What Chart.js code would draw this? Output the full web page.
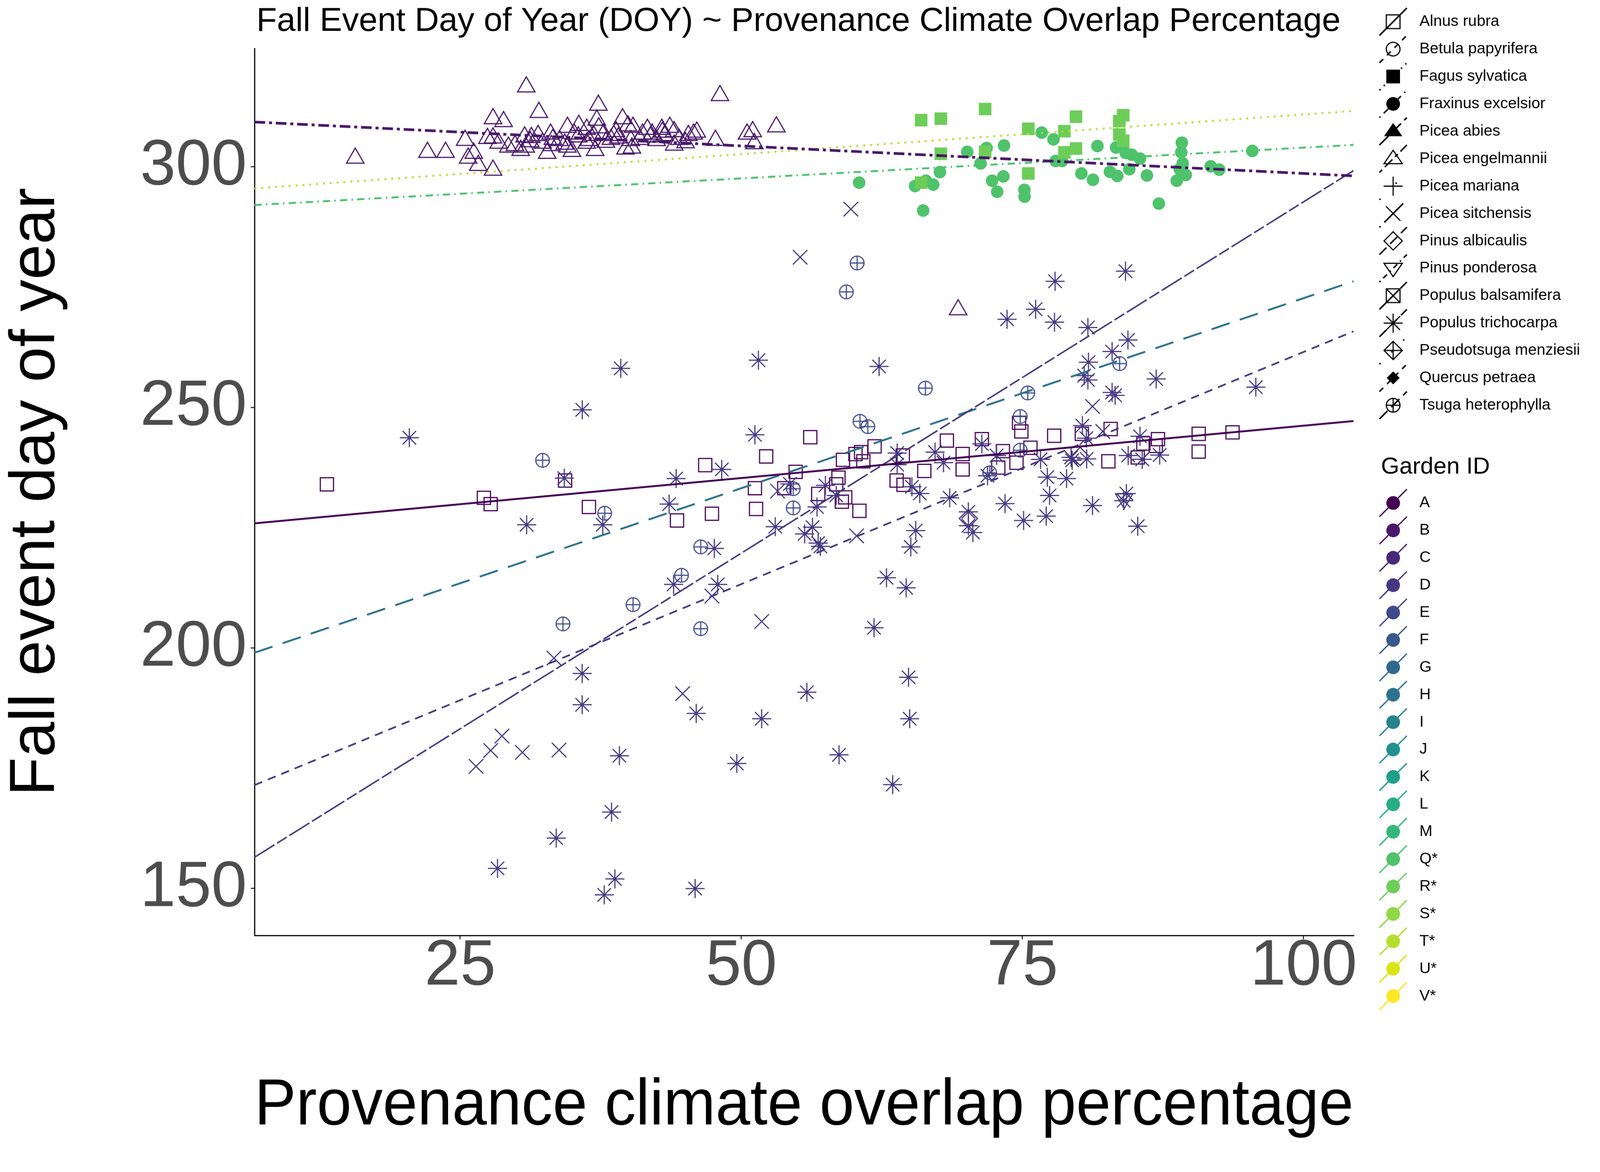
<!DOCTYPE html>
<html>
<head>
<meta charset="utf-8">
<title>Fall Event DOY ~ Provenance Climate Overlap</title>
<script src="https://cdn.jsdelivr.net/npm/chart.js@4.4.1/dist/chart.umd.min.js"></script>
<style>
  html, body { margin: 0; padding: 0; background: #fff; overflow: hidden; }
</style>
</head>
<body>
<canvas id="doy-chart" width="4200" height="3000" style="display:block;width:100vw;height:71.42857vw"></canvas>
<script>
// ---- axis setup ----
const xTicks = [25, 50, 75, 100];
const yTicks = [150, 200, 250, 300];
const xRange = [6.71, 104.44];
const yRange = [140.26, 324.6];

// ---- fitted lines (value at left and right edge of the panel) ----
const lineX          = [6.71, 104.44];
const alnusLineY     = [225.9, 247.15];  // solid, garden A
const engelLineY     = [309.3, 298.1];   // twodash, garden B
const fraxinusLineY  = [292.05, 304.55]; // dotdash, garden Q*
const fagusLineY     = [295.5, 311.6];   // dotted, garden T*
const tsugaLineY     = [156.5, 299.2];   // long dash, garden D
const trichoLineY    = [171.5, 265.8];   // dashed, garden D
const gardenHLineY   = [199.0, 276.2];   // dashed, garden H

// ---- points ----
const alnusX = [13.15, 27.11, 27.71, 34.33, 36.45, 44.28, 46.79, 47.39, 51.21, 51.31, 52.21, 53.82, 54.83, 56.13, 56.84, 58.44, 58.64, 58.94, 59.04, 59.24,
  60.15, 60.5, 60.65, 60.85, 61.85, 64.36, 63.81, 64.42, 66.27, 68.28, 69.68, 69.68, 71.39, 72.85, 73.26, 74.47, 74.7, 74.9, 75.71, 77.82,
  80.28, 82.84, 82.64, 85.75, 87.05, 86.85, 85.25, 90.67, 90.67, 93.68];
const alnusY = [234.0, 231.2, 229.9, 234.8, 229.3, 226.5, 238.0, 227.9, 233.2, 228.9, 239.8, 233.2, 236.6, 243.8, 232.0, 234.0, 235.4, 230.4, 239.1, 231.3,
  240.3, 228.5, 240.7, 238.8, 241.9, 240.0, 234.8, 233.9, 236.8, 243.1, 240.3, 237.1, 243.4, 237.5, 240.9, 238.5, 246.8, 245.0, 241.6, 244.1,
  244.5, 245.5, 238.8, 242.5, 243.4, 242.0, 239.6, 244.5, 240.8, 244.8];

const engelX = [30.88, 37.29, 32.0, 27.92, 28.86, 48.1, 53.12, 22.09, 23.7, 25.44, 26.21, 25.71, 26.61, 27.92, 27.42, 27.92, 28.42, 29.29, 29.87, 30.38,
  30.73, 31.33, 31.93, 32.74, 33.04, 33.12, 34.54, 34.54, 34.94, 35.55, 36.25, 37.0, 37.15, 37.32, 37.76, 38.41, 38.86, 39.44, 39.92, 40.37,
  39.7, 40.27, 40.97, 41.65, 41.91, 42.98, 43.64, 44.03, 44.03, 45.04, 45.76, 46.04, 47.7, 50.51, 51.01, 51.16, 33.84, 35.14, 36.45, 37.96,
  39.06, 42.07, 42.47, 43.18, 30.83, 31.23, 32.33, 34.3, 35.5, 36.85, 38.66, 40.17, 41.22, 44.48, 45.29, 42.93, 33.24, 36.25, 15.67, 69.28];
const engelY = [316.6, 312.8, 311.3, 310.0, 309.4, 314.8, 308.3, 303.0, 303.0, 305.5, 302.8, 301.8, 300.3, 299.3, 305.9, 306.0, 304.9, 304.1, 304.4, 303.4,
  306.2, 306.1, 306.5, 302.8, 306.8, 304.4, 308.2, 304.1, 303.2, 308.6, 307.8, 303.4, 309.7, 308.1, 306.8, 305.7, 307.3, 310.0, 308.5, 308.2,
  303.7, 303.9, 305.7, 307.8, 306.2, 307.2, 308.2, 307.3, 304.5, 305.0, 306.8, 307.2, 305.5, 306.8, 307.3, 304.8, 305.45, 306.8, 305.45, 305.1,
  306.0, 306.8, 305.45, 306.5, 304.1, 305.2, 304.9, 304.7, 306.2, 306.5, 306.5, 305.45, 306.8, 305.7, 306.5, 307.8, 305.7, 304.9, 301.8, 270.3];

const trichoX = [20.48, 39.28, 51.52, 35.86, 51.21, 48.26, 44.2, 34.26, 30.91, 37.68, 43.58, 47.6, 43.98, 47.9, 53.02, 55.63, 56.33, 56.83, 57.03, 56.73,
  57.48, 58.44, 62.25, 54.32, 77.9, 84.16, 76.17, 73.63, 77.85, 80.82, 84.38, 82.97, 80.87, 80.49, 80.82, 86.89, 82.97, 83.24, 95.75, 80.33,
  80.68, 85.45, 87.2, 85.65, 84.4, 80.71, 79.32, 79.42, 76.61, 77.21, 78.92, 77.41, 73.45, 75.1, 77.11, 81.23, 84.24, 84.0, 85.25, 71.89,
  68.53, 70.19, 70.19, 70.59, 65.51, 65.07, 65.87, 65.17, 63.86, 63.86, 67.23, 67.98, 71.39, 72.7, 62.91, 64.66, 61.8, 35.85, 35.85, 55.83,
  64.87, 64.97, 45.99, 51.81, 39.16, 49.6, 58.69, 63.46, 38.46, 33.54, 28.32, 38.76, 37.81, 45.89];
const trichoY = [243.7, 258.1, 259.8, 249.5, 244.3, 237.1, 235.2, 235.3, 225.6, 225.6, 229.9, 220.7, 213.2, 213.2, 225.2, 223.7, 225.1, 221.8, 221.1, 229.3,
  233.8, 231.7, 258.5, 234.1, 276.2, 278.3, 270.4, 268.3, 267.7, 266.6, 264.0, 261.6, 259.4, 256.6, 255.7, 255.9, 253.1, 252.5, 254.2, 246.2,
  243.6, 244.0, 240.1, 239.2, 240.0, 239.3, 239.6, 239.0, 239.2, 235.5, 235.2, 231.7, 230.0, 226.5, 227.4, 229.6, 232.1, 230.6, 225.3, 235.8,
  231.2, 228.3, 225.4, 224.0, 224.4, 221.0, 232.1, 233.5, 238.1, 240.5, 240.7, 238.5, 242.4, 240.0, 214.6, 212.5, 204.2, 194.7, 188.2, 190.8,
  193.9, 185.3, 186.4, 185.3, 177.6, 176.0, 177.8, 171.6, 165.9, 160.5, 154.2, 152.0, 148.7, 150.0];

const sitchX = [55.23, 59.74, 53.22, 60.25, 81.23, 82.14, 47.39, 51.81, 33.34, 44.78, 28.72, 27.71, 30.53, 33.79, 26.41];
const sitchY = [281.2, 291.2, 232.6, 223.3, 250.2, 245.0, 210.8, 205.5, 197.9, 190.5, 181.7, 178.7, 178.3, 178.8, 175.4];

const tsugaX = [32.33, 37.85, 44.68, 46.39, 34.14, 40.37, 46.39, 54.62, 54.62, 60.55, 61.25, 66.37, 75.47, 74.8, 83.64, 74.8, 72.09, 60.3, 59.34];
const tsugaY = [239.0, 228.0, 215.1, 221.0, 205.0, 209.0, 204.0, 233.1, 229.1, 247.1, 246.0, 254.0, 253.0, 248.1, 259.1, 241.1, 236.4, 280.0, 274.0];

const albicX = [80.13, 70.19];
const albicY = [239.8, 226.9];
const pondX  = [84.04];
const pondY  = [231.0];

const fraxX = [60.48, 65.45, 66.42, 67.06, 67.66, 66.17, 70.09, 71.28, 71.81, 72.3, 72.75, 73.3, 73.36, 75.17, 75.19, 76.71, 77.76, 77.95, 78.52, 80.24,
  81.27, 81.67, 82.78, 83.32, 83.43, 84.18, 84.5, 84.72, 85.45, 86.07, 87.13, 88.72, 89.17, 89.12, 89.25, 88.98, 89.52, 91.74, 92.5, 95.44];
const fraxY = [296.7, 296.0, 297.1, 296.3, 298.9, 290.9, 303.1, 300.7, 303.9, 297.1, 294.8, 298.0, 304.4, 295.2, 293.8, 307.1, 305.7, 301.2, 301.2, 298.6,
  297.3, 304.3, 298.95, 304.0, 298.1, 302.9, 299.5, 302.5, 301.7, 298.2, 292.35, 297.1, 305.0, 303.0, 300.7, 299.5, 298.3, 300.1, 299.4, 303.3];

const fagusX = [65.99, 67.74, 71.68, 75.52, 79.76, 83.96, 83.61, 83.61, 83.96, 78.73, 67.74, 71.68, 79.76, 78.73, 75.52, 65.99];
const fagusY = [309.7, 310.0, 312.0, 307.9, 310.4, 310.7, 309.5, 306.7, 305.4, 307.4, 302.7, 303.1, 303.8, 303.0, 298.6, 296.7];

// ---- legends ----
const speciesNames = ["Alnus rubra", "Betula papyrifera", "Fagus sylvatica", "Fraxinus excelsior", "Picea abies",
  "Picea engelmannii", "Picea mariana", "Picea sitchensis", "Pinus albicaulis", "Pinus ponderosa",
  "Populus balsamifera", "Populus trichocarpa", "Pseudotsuga menziesii", "Quercus petraea", "Tsuga heterophylla"];
const speciesGlyphs = ["sq", "circ", "sqF", "circF", "triF", "tri", "plus", "x", "dia", "triD", "sqX", "star", "diaPlus", "diaF", "circPlus"];
const speciesDashes = [[], [14, 14], [4, 12], [4, 12, 18, 12], [34, 12], [10, 10, 28, 10], [4, 56], [4, 14, 70, 14],
  [26, 14], [4, 10, 14, 10], [70, 8], [26, 14], [4, 40], [14, 14], [30, 14]];

const gardenIds = ["A", "B", "C", "D", "E", "F", "G", "H", "I", "J", "K", "L", "M", "Q*", "R*", "S*", "T*", "U*", "V*"];
const gardenColors = ["#440154", "#481769", "#482878", "#453781", "#3E4A89", "#38598C", "#31688E", "#2C728E", "#26828E", "#21908C",
  "#1F9E89", "#28AE80", "#35B779", "#4EC36B", "#6DCD59", "#8FD744", "#B4DE2C", "#DAE319", "#FDE725"];

const FONT = '"Liberation Sans", Arial, Helvetica, sans-serif';
const col = id => gardenColors[gardenIds.indexOf(id)];
const pts = (xs, ys) => xs.map((x, i) => ({ x: x, y: ys[i] }));

// circle with a plus, for Tsuga heterophylla
function circlePlusMarker(color) {
    const c = document.createElement("canvas");
    c.width = 44; c.height = 44;
    const g = c.getContext("2d");
    g.strokeStyle = color;
    g.lineWidth = 3;
    g.beginPath(); g.arc(22, 22, 18, 0, Math.PI * 2); g.stroke();
    g.beginPath();
    g.moveTo(4, 22); g.lineTo(40, 22);
    g.moveTo(22, 4); g.lineTo(22, 40);
    g.stroke();
    return c;
}

function fitLine(ys, color, width, dash) {
    return {
        type: "line", data: pts(lineX, ys), borderColor: color, borderWidth: width,
        borderDash: dash, pointRadius: 0, fill: false, tension: 0
    };
}

function pointSet(xs, ys, style, radius, color, filled, extra) {
    return Object.assign({
        type: "scatter", data: pts(xs, ys), pointStyle: style, pointRadius: radius,
        borderColor: color, backgroundColor: filled ? color : "rgba(0,0,0,0)",
        borderWidth: filled ? 0 : 3
    }, extra || {});
}

// legend key glyphs (black)
function drawGlyph(ctx, kind, x, y) {
    ctx.save();
    ctx.strokeStyle = "#000";
    ctx.fillStyle = "#000";
    ctx.lineWidth = 3;
    ctx.setLineDash([]);
    ctx.beginPath();
    const tri = (dir) => {
        ctx.moveTo(x, y - 22 * dir);
        ctx.lineTo(x + 24, y + 13 * dir);
        ctx.lineTo(x - 24, y + 13 * dir);
        ctx.closePath();
    };
    const dia = (r) => {
        ctx.moveTo(x, y - r); ctx.lineTo(x + r, y); ctx.lineTo(x, y + r); ctx.lineTo(x - r, y); ctx.closePath();
    };
    const plus = (r) => { ctx.moveTo(x - r, y); ctx.lineTo(x + r, y); ctx.moveTo(x, y - r); ctx.lineTo(x, y + r); };
    const cross = (r) => { ctx.moveTo(x - r, y - r); ctx.lineTo(x + r, y + r); ctx.moveTo(x + r, y - r); ctx.lineTo(x - r, y + r); };
    switch (kind) {
        case "sq": ctx.rect(x - 18, y - 18, 36, 36); ctx.stroke(); break;
        case "sqF": ctx.rect(x - 18, y - 18, 36, 36); ctx.fill(); break;
        case "circ": ctx.arc(x, y, 18, 0, Math.PI * 2); ctx.stroke(); break;
        case "circF": ctx.arc(x, y, 18, 0, Math.PI * 2); ctx.fill(); break;
        case "tri": tri(1); ctx.stroke(); break;
        case "triF": tri(1); ctx.fill(); break;
        case "triD": tri(-1); ctx.stroke(); break;
        case "plus": plus(25); ctx.stroke(); break;
        case "x": cross(19); ctx.stroke(); break;
        case "dia": dia(24); ctx.stroke(); break;
        case "diaF": dia(17); ctx.fill(); break;
        case "sqX": ctx.rect(x - 18, y - 18, 36, 36); cross(18); ctx.stroke(); break;
        case "star": plus(25); cross(18); ctx.stroke(); break;
        case "diaPlus": dia(24); plus(24); ctx.stroke(); break;
        case "circPlus": ctx.arc(x, y, 18, 0, Math.PI * 2); plus(18); ctx.stroke(); break;
    }
    ctx.restore();
}

function drawKeyLine(ctx, x, y, color, width, dash) {
    ctx.save();
    ctx.strokeStyle = color;
    ctx.lineWidth = width;
    ctx.setLineDash(dash);
    ctx.beginPath();
    ctx.moveTo(x - 36, y + 36);
    ctx.lineTo(x + 36, y - 36);
    ctx.stroke();
    ctx.restore();
}

const sideLegends = {
    id: "sideLegends",
    afterDraw(chart) {
        const ctx = chart.ctx;
        ctx.save();
        ctx.textAlign = "left";
        ctx.textBaseline = "middle";
        ctx.fillStyle = "#000";
        ctx.font = "88px " + FONT;
        ctx.fillText("Fall Event Day of Year (DOY) ~ Provenance Climate Overlap Percentage", 673, 57);

        const keyX = 3657, textX = 3726, step = 71.9;
        speciesNames.forEach((name, i) => {
            const cy = 57 + step * i;
            drawKeyLine(ctx, keyX, cy, "#000", 4, speciesDashes[i]);
            drawGlyph(ctx, speciesGlyphs[i], keyX, cy);
            ctx.fillStyle = "#000";
            ctx.font = "41px " + FONT;
            ctx.fillText(name, textX, cy);
        });

        ctx.font = "62px " + FONT;
        ctx.fillText("Garden ID", 3625, 1226);
        gardenIds.forEach((id, i) => {
            const cy = 1320 + step * i;
            drawKeyLine(ctx, keyX, cy, gardenColors[i], 3.5, []);
            ctx.fillStyle = gardenColors[i];
            ctx.beginPath();
            ctx.arc(keyX, cy, 18, 0, Math.PI * 2);
            ctx.fill();
            ctx.fillStyle = "#000";
            ctx.font = "41px " + FONT;
            ctx.fillText(id, textX, cy);
        });
        ctx.restore();
    }
};

const datasets = [
    fitLine(engelLineY, col("B"), 7, [28, 10, 8, 10]),
    fitLine(fagusLineY, col("T*"), 5, [5, 13]),
    fitLine(fraxinusLineY, col("Q*"), 5, [19, 11, 4, 11]),
    fitLine(alnusLineY, col("A"), 5, []),
    fitLine(tsugaLineY, col("D"), 4, [62, 8, 30, 8]),
    fitLine(trichoLineY, col("D"), 4.5, [22, 16]),
    fitLine(gardenHLineY, col("H"), 5, [50, 28]),
    pointSet(fagusX, fagusY, "rect", 23.3, col("R*"), true),
    pointSet(fraxX, fraxY, "circle", 16.5, col("Q*"), true),
    pointSet(tsugaX, tsugaY, circlePlusMarker(col("E")), 18, col("E"), false),
    pointSet(albicX, albicY, "rectRot", 24, col("D"), false),
    pointSet(pondX, pondY, "triangle", 26, col("D"), false, { rotation: 180 }),
    pointSet(sitchX, sitchY, "crossRot", 27, col("D"), false),
    pointSet(trichoX, trichoY, "star", 25, col("D"), false),
    pointSet(engelX, engelY, "triangle", 26.5, col("B"), false),
    pointSet(alnusX, alnusY, "rect", 24.5, col("A"), false)
];

new Chart(document.getElementById("doy-chart"), {
    type: "scatter",
    data: { datasets: datasets },
    options: {
        responsive: false,
        animation: false,
        devicePixelRatio: 1,
        events: [],
        layout: { padding: { top: 127, right: 647, left: 0, bottom: 0 } },
        plugins: {
            legend: { display: false },
            title: { display: false },
            tooltip: { enabled: false }
        },
        scales: {
            x: {
                type: "linear",
                min: xRange[0],
                max: xRange[1],
                afterBuildTicks: s => { s.ticks = xTicks.map(v => ({ value: v })); },
                afterFit: s => { s.height = 545; },
                grid: { drawOnChartArea: false, drawTicks: true, tickLength: 10, color: "#333333", lineWidth: 3 },
                border: { display: true, color: "#000", width: 3 },
                ticks: {
                    font: { family: FONT, size: 168, lineHeight: 0.8 }, color: "#4D4D4D",
                    padding: 5, maxRotation: 0, autoSkip: false
                },
                title: {
                    display: true, text: "Provenance climate overlap percentage", color: "#000",
                    font: { family: FONT, size: 171, lineHeight: 1 }, padding: { top: 0, bottom: 11 }
                }
            },
            y: {
                type: "linear",
                min: yRange[0],
                max: yRange[1],
                afterBuildTicks: s => { s.ticks = yTicks.map(v => ({ value: v })); },
                afterFit: s => { s.width = 668; },
                grid: { drawOnChartArea: false, drawTicks: true, tickLength: 10, color: "#333333", lineWidth: 3 },
                border: { display: true, color: "#000", width: 3 },
                ticks: { font: { family: FONT, size: 168 }, color: "#4D4D4D", padding: 10, autoSkip: false },
                title: {
                    display: true, text: "Fall event day of year", color: "#000",
                    font: { family: FONT, size: 167, lineHeight: 1 }, padding: { top: 12, bottom: 0 }
                }
            }
        }
    },
    plugins: [sideLegends]
});
</script>
</body>
</html>
